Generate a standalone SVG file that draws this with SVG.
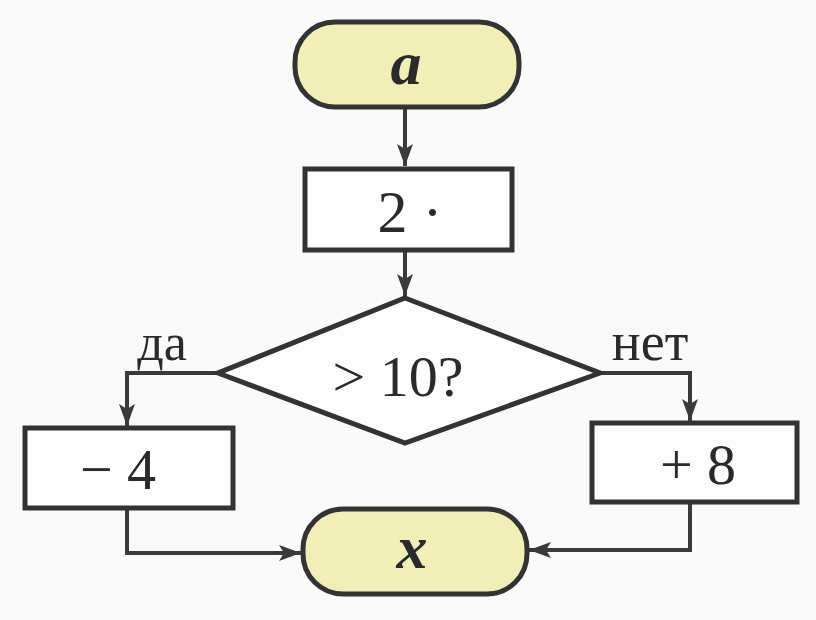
<svg xmlns="http://www.w3.org/2000/svg" width="816" height="620" viewBox="0 0 816 620">
<defs>
<marker id="arr" viewBox="0 0 22 16" refX="22" refY="8" markerWidth="22" markerHeight="16" markerUnits="userSpaceOnUse" orient="auto">
<path d="M0,0 L22,8 L0,16 L5,8 Z" fill="#3a3a3a"/>
</marker>
</defs>
<style>
.shape{stroke:#333;stroke-width:5;fill:#fdfdfd}
.term{stroke:#333;stroke-width:5;fill:#f1eeb8}
.conn{stroke:#3a3a3a;stroke-width:4;fill:none}
.t{font-family:"Liberation Serif","DejaVu Serif",serif;fill:#2a2a2a;text-anchor:middle}
</style>
<rect width="816" height="620" fill="#fafafa"/>
<g id="connectors">
<path class="conn" d="M405,107 V166" marker-end="url(#arr)"/>
<path class="conn" d="M405,250 V296" marker-end="url(#arr)"/>
<path class="conn" d="M218,373 H127 V426" marker-end="url(#arr)"/>
<path class="conn" d="M600,373 H690 V421" marker-end="url(#arr)"/>
<path class="conn" d="M127,508 V553 H301" marker-end="url(#arr)"/>
<path class="conn" d="M690,502 V550 H529" marker-end="url(#arr)"/>
</g>
<g id="start">
<rect class="term" x="295" y="22" width="224" height="85" rx="40"/>
<text class="t" x="406" y="84" font-size="62" font-style="italic" font-weight="bold">a</text>
</g>
<g id="mul">
<rect class="shape" x="305" y="169" width="207" height="81"/>
<text class="t" x="410" y="232" font-size="60">2 ·</text>
</g>
<g id="cond">
<polygon class="shape" points="405,298 600,373 405,443 218,373"/>
<text class="t" x="398" y="396" font-size="58">&gt; 10?</text>
</g>
<text class="t" x="162" y="360" font-size="52">да</text>
<text class="t" x="650" y="360" font-size="54">нет</text>
<g id="minus">
<rect class="shape" x="25" y="428" width="208" height="80"/>
<text class="t" x="118" y="489" font-size="58">− 4</text>
</g>
<g id="plus">
<rect class="shape" x="592" y="423" width="205" height="79"/>
<text class="t" x="698" y="484" font-size="58">+ 8</text>
</g>
<g id="end">
<rect class="term" x="303" y="509" width="224" height="85" rx="40"/>
<text class="t" x="412" y="568" font-size="62" font-style="italic" font-weight="bold">x</text>
</g>
</svg>
